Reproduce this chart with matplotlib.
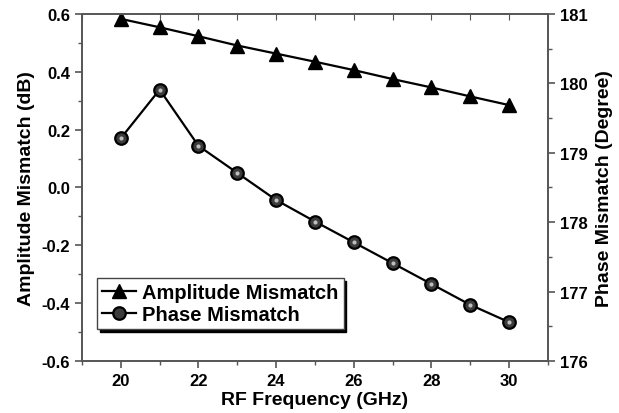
import matplotlib.pyplot as plt
from matplotlib.ticker import MultipleLocator

freq_ghz = [20, 21, 22, 23, 24, 25, 26, 27, 28, 29, 30]
amplitude_db = [0.583, 0.554, 0.523, 0.491, 0.463, 0.435, 0.406, 0.375, 0.346, 0.315, 0.285]
phase_deg = [179.21, 179.91, 179.10, 178.71, 178.32, 178.01, 177.71, 177.41, 177.11, 176.81, 176.56]


def main() -> None:
    plt.rcParams.update(
        {
            "font.family": ["Liberation Sans", "DejaVu Sans"],
            "font.weight": "bold",
            "axes.labelweight": "bold",
            "font.size": 12,
        }
    )
    fig = plt.figure(figsize=(6.19, 4.14), dpi=100)
    ax = fig.add_axes([0.1325, 0.1256, 0.7525, 0.8382])
    ax2 = ax.twinx()

    (amp_line,) = ax.plot(
        freq_ghz, amplitude_db, "-^", color="black", linewidth=1.6,
        markersize=10, label="Amplitude Mismatch",
    )
    (phase_line,) = ax2.plot(
        freq_ghz, phase_deg, "-o", color="black", linewidth=1.6,
        markersize=9, markerfacecolor="#3c3c3c", markeredgecolor="black",
        markeredgewidth=1.6, label="Phase Mismatch",
    )
    # small highlight on the spheres
    ax2.plot(
        freq_ghz, phase_deg, "o", linestyle="none", markersize=3,
        markerfacecolor="#bdbdbd", markeredgewidth=0,
    )

    ax.set_xlim(19, 31)
    ax.set_ylim(-0.6, 0.6)
    ax2.set_ylim(176, 181)
    ax.xaxis.set_major_locator(MultipleLocator(2))
    ax.xaxis.set_minor_locator(MultipleLocator(1))
    ax.yaxis.set_major_locator(MultipleLocator(0.2))
    ax.yaxis.set_minor_locator(MultipleLocator(0.1))
    ax2.yaxis.set_major_locator(MultipleLocator(1))
    ax2.yaxis.set_minor_locator(MultipleLocator(0.5))
    ax.yaxis.set_major_formatter(lambda v, pos: f"{v:.1f}")

    for a in (ax, ax2):
        for spine in a.spines.values():
            spine.set_color("#555555")
            spine.set_linewidth(1.2)
    ax.tick_params(axis="both", which="both", direction="out", color="#555555")
    ax2.tick_params(axis="y", which="both", direction="out", color="#555555")
    ax.tick_params(which="major", length=5, width=1.2, labelsize=12)
    ax.tick_params(which="minor", length=3, width=1.0)
    ax2.tick_params(which="major", length=5, width=1.2, labelsize=12)
    ax2.tick_params(which="minor", length=3, width=1.0)
    secx = ax.secondary_xaxis("top")
    secx.xaxis.set_major_locator(MultipleLocator(1))
    secx.tick_params(direction="in", length=4, color="#555555", labeltop=False)
    secx.spines["top"].set_visible(False)

    ax.set_xlabel("RF Frequency (GHz)", fontsize=14, labelpad=2)
    ax.set_ylabel("Amplitude Mismatch (dB)", fontsize=14, labelpad=5)
    ax2.set_ylabel("Phase Mismatch (Degree)", fontsize=14, labelpad=6)

    leg = ax2.legend(
        handles=[amp_line, phase_line],
        loc="lower left",
        bbox_to_anchor=(0.032, 0.092),
        fontsize=14.5,
        frameon=True,
        fancybox=False,
        shadow={"color": "black", "alpha": 1.0},
        handlelength=1.7,
        handletextpad=0.3,
        borderpad=0.25,
        labelspacing=0.15,
        borderaxespad=0,
        edgecolor="#444444",
    )
    leg.get_frame().set_linewidth(1.0)

    fig.savefig("out.png", dpi=100)
    plt.close(fig)


if __name__ == "__main__":
    main()
